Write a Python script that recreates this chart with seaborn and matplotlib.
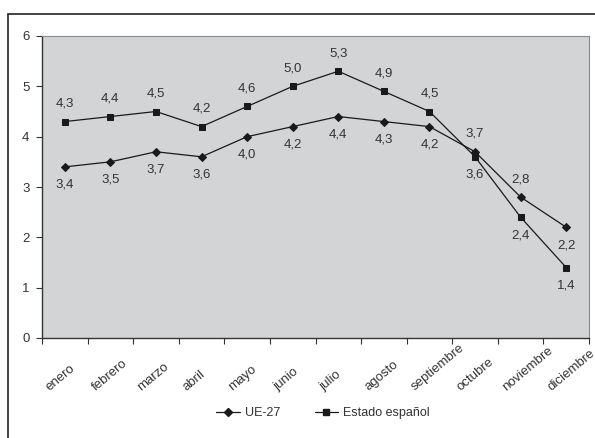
import pandas as pd
import seaborn as sns
import matplotlib.pyplot as plt
import matplotlib.transforms as mtransforms
from matplotlib.patches import Rectangle
from matplotlib.lines import Line2D

meses = ["enero", "febrero", "marzo", "abril", "mayo", "junio", "julio",
         "agosto", "septiembre", "octubre", "noviembre", "diciembre"]
ue27 = [3.4, 3.5, 3.7, 3.6, 4.0, 4.2, 4.4, 4.3, 4.2, 3.7, 2.8, 2.2]
espana = [4.3, 4.4, 4.5, 4.2, 4.6, 5.0, 5.3, 4.9, 4.5, 3.6, 2.4, 1.4]
# posición de la etiqueta: +1 encima, -1 debajo
pos_ue27 = [-1, -1, -1, -1, -1, -1, -1, -1, -1, 1, 1, -1]
pos_espana = [1, 1, 1, 1, 1, 1, 1, 1, 1, -1, -1, -1]

df = pd.DataFrame({"idx": range(len(meses)), "mes": meses,
                   "UE-27": ue27, "Estado español": espana})

sns.set_style("white")
plt.rcParams["font.family"] = ["Liberation Sans", "DejaVu Sans"]
txt = "#333333"
fs = 9.5

fig = plt.figure(figsize=(5.95, 4.38), dpi=100)
ax = fig.add_axes([42 / 595, 1 - 338 / 438, 547 / 595, 302 / 438])
ax.set_facecolor("#D3D4D6")

sns.lineplot(data=df, x="idx", y="UE-27", ax=ax, color="#1a1a1a", lw=0.9,
             marker="D", markersize=4.5, markeredgecolor="#1a1a1a")
sns.lineplot(data=df, x="idx", y="Estado español", ax=ax, color="#1a1a1a", lw=0.9,
             marker="s", markersize=5, markeredgecolor="#1a1a1a")

for i in range(len(meses)):
    ax.annotate(f"{ue27[i]:.1f}".replace(".", ","), (i, ue27[i]),
                xytext=(0, 13 * pos_ue27[i]), textcoords="offset points",
                ha="center", va="center", fontsize=fs, color=txt)
    ax.annotate(f"{espana[i]:.1f}".replace(".", ","), (i, espana[i]),
                xytext=(0, 13 * pos_espana[i]), textcoords="offset points",
                ha="center", va="center", fontsize=fs, color=txt)

ax.set_xlim(-0.5, len(meses) - 0.5)
ax.set_ylim(0, 6)
ax.set_yticks(range(0, 7))
ax.set_xticks(range(len(meses)))
ax.set_xticklabels([])
ax.set_xticks([i - 0.5 for i in range(len(meses) + 1)], minor=True)
ax.tick_params(axis="x", which="major", length=0)
ax.tick_params(axis="x", which="minor", length=4, width=0.8, color=txt,
               direction="out", bottom=True)
ax.tick_params(axis="y", length=4, width=0.8, color=txt, direction="out",
               left=True, labelsize=fs, labelcolor=txt, pad=5)
ax.set_xlabel("")
ax.set_ylabel("")

# etiquetas del eje x giradas, ancladas por su inicio
base = mtransforms.blended_transform_factory(ax.transData, ax.transAxes)
lab_tr = mtransforms.offset_copy(base, fig=fig, x=-13, y=-55, units="dots")
for i, m in enumerate(meses):
    ax.text(i, 0, m, transform=lab_tr, rotation=40, rotation_mode="anchor",
            ha="left", va="bottom", fontsize=fs, color=txt, clip_on=False)

for s in ["left", "bottom"]:
    ax.spines[s].set_color("#333333")
    ax.spines[s].set_linewidth(1.0)
for s in ["top", "right"]:
    ax.spines[s].set_color("#8a8a8a")
    ax.spines[s].set_linewidth(0.8)

handles = [Line2D([], [], color="#1a1a1a", lw=0.9, marker="D", markersize=4.5),
           Line2D([], [], color="#1a1a1a", lw=0.9, marker="s", markersize=5)]
fig.legend(handles, ["UE-27", "Estado español"], loc="center",
           bbox_to_anchor=(323 / 595, 1 - 413 / 438), ncol=2, frameon=False,
           fontsize=9, handlelength=1.85, columnspacing=2.8, handletextpad=0.4,
           labelcolor=txt)

fig.patches.append(Rectangle((8 / 595, -0.05), 1.0, 1 - 14 / 438 + 0.05,
                             transform=fig.transFigure, fill=False,
                             edgecolor="#222222", lw=1.2))

fig.savefig("out.png", dpi=100)
